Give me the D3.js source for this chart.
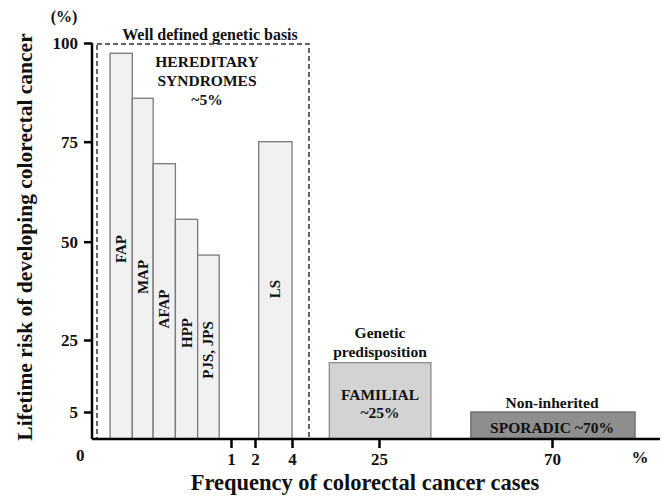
<!DOCTYPE html>
<html>
<head>
<meta charset="utf-8">
<script src="https://cdn.jsdelivr.net/npm/d3@7"></script>
<style>
  html, body { margin: 0; padding: 0; background: #fff; }
  svg { display: block; }
  text { font-family: "Liberation Serif", "Times New Roman", serif; fill: #111; }
</style>
</head>
<body>
<svg id="chart" width="662" height="497"></svg>
<script>
// ---- data ----
const hereditaryNames = ["FAP", "MAP", "AFAP", "HPP", "PJS, JPS", "LS"];
const hereditaryRisk  = [97.4, 86, 69.5, 55.6, 46.6, 75];
const hereditaryFrom  = [0.13, 0.29, 0.44, 0.60, 0.76, 2.2];
const hereditaryTo    = [0.29, 0.44, 0.60, 0.76, 0.915, 4];

const groupNames = ["FAMILIAL", "SPORADIC"];
const groupRisk  = [18.7, 5];
const groupFrom  = [10.8, 48.9];
const groupTo    = [38.5, 91.6];

const yTicks = [0, 5, 25, 50, 75, 100];
const xTicks = [1, 2, 4, 25, 70];

// ---- scales ----
const svg = d3.select("#chart");
const y = d3.scaleLinear()
  .domain([0, 5, 25, 50, 75, 100])
  .range([439, 412, 340, 241.7, 141.7, 43]);
const x = d3.scaleLinear()
  .domain([0, 1, 2, 4, 5, 25, 70])
  .range([92, 231, 255, 292, 309, 379, 552]);

// ---- hereditary dashed box ----
svg.append("rect")
  .attr("x", 97).attr("y", y(100) + 1)
  .attr("width", x(5) - 97).attr("height", y(0) - y(100) - 1)
  .attr("fill", "none").attr("stroke", "#333")
  .attr("stroke-width", 1.5).attr("stroke-dasharray", "5,3");

// ---- bars ----
const hData = hereditaryNames.map((n, i) => ({ n, v: hereditaryRisk[i], a: hereditaryFrom[i], b: hereditaryTo[i] }));
svg.selectAll("rect.h").data(hData).enter().append("rect")
  .attr("class", "h")
  .attr("x", d => x(d.a)).attr("width", d => x(d.b) - x(d.a))
  .attr("y", d => y(d.v)).attr("height", d => y(0) - y(d.v))
  .attr("fill", "#f1f1f1").attr("stroke", "#7a7a7a").attr("stroke-width", 1.3);

const labelY = [249, 277, 309, 333, 350, 289];
svg.selectAll("text.hl").data(hData).enter().append("text")
  .attr("class", "hl")
  .attr("transform", (d, i) => `translate(${(x(d.a) + x(d.b)) / 2 + 5},${labelY[i]}) rotate(-90)`)
  .attr("text-anchor", "middle")
  .attr("font-size", 15)
  .attr("font-weight", "bold")
  .text(d => d.n);

const gFill = ["#d3d3d3", "#8e8e8e"];
const gStroke = ["#8a8a8a", "#666"];
const gData = groupNames.map((n, i) => ({ n, v: groupRisk[i], a: groupFrom[i], b: groupTo[i], i }));
svg.selectAll("rect.g").data(gData).enter().append("rect")
  .attr("class", "g")
  .attr("x", d => x(d.a)).attr("width", d => x(d.b) - x(d.a))
  .attr("y", d => y(d.v)).attr("height", d => y(0) - y(d.v))
  .attr("fill", d => gFill[d.i]).attr("stroke", d => gStroke[d.i]).attr("stroke-width", 1.3);

// ---- axes ----
const yAxis = d3.axisLeft(y).tickValues(yTicks.slice(1)).tickSize(8).tickFormat(d3.format("d"));
const gy = svg.append("g").attr("transform", "translate(92,0)").call(yAxis);
gy.select(".domain").attr("d", `M0,${y(100)}V${y(0)}`).attr("stroke", "#000").attr("stroke-width", 2.5);
gy.selectAll(".tick line").attr("stroke", "#000").attr("stroke-width", 2.5);
gy.selectAll(".tick text").attr("x", -14).attr("font-size", 17).attr("font-weight", "bold")
  .attr("font-family", "Liberation Serif, serif").attr("fill", "#111");

const xAxis = d3.axisBottom(x).tickValues(xTicks).tickSize(9).tickFormat(d3.format("d"));
const gx = svg.append("g").attr("transform", `translate(0,${y(0)})`).call(xAxis);
gx.select(".domain").attr("d", `M${x(0)},0H660`).attr("stroke", "#000").attr("stroke-width", 2.5);
gx.selectAll(".tick line").attr("stroke", "#000").attr("stroke-width", 2.5);
gx.selectAll(".tick text").attr("y", 14).attr("font-size", 17).attr("font-weight", "bold")
  .attr("font-family", "Liberation Serif, serif").attr("fill", "#111");

const bold = (sel) => sel.attr("font-weight", "bold");
bold(svg.append("text").attr("x", 76).attr("y", 461).attr("font-size", 17).text("0"));
bold(svg.append("text").attr("x", 640).attr("y", 463).attr("text-anchor", "middle").attr("font-size", 17).text("%"));
bold(svg.append("text").attr("x", 64).attr("y", 22).attr("text-anchor", "middle").attr("font-size", 16).text("(%)"));

// axis titles
bold(svg.append("text").attr("transform", "translate(32,237) rotate(-90)")
  .attr("text-anchor", "middle").attr("font-size", 21.5)
  .text("Lifetime risk of developing colorectal cancer"));
bold(svg.append("text").attr("x", 365).attr("y", 490)
  .attr("text-anchor", "middle").attr("font-size", 22.5)
  .text("Frequency of colorectal cancer cases"));

// annotations
const ann = [
  ["Well defined genetic basis", 210, 40, 16],
  ["HEREDITARY", 207, 67, 15.5],
  ["SYNDROMES", 207, 86, 15.5],
  ["~5%", 207, 105, 15.5],
  ["Genetic", 380, 338, 15.5],
  ["predisposition", 380, 357, 15.5],
  ["FAMILIAL", 380, 400, 15.5],
  ["~25%", 380, 418, 15.5],
  ["Non-inherited", 552, 408, 15.5],
  ["SPORADIC ~70%", 552, 433, 15.5]
];
svg.selectAll("text.ann").data(ann).enter().append("text")
  .attr("class", "ann")
  .attr("x", d => d[1]).attr("y", d => d[2])
  .attr("text-anchor", "middle").attr("font-size", d => d[3])
  .attr("font-weight", "bold")
  .text(d => d[0]);
</script>
</body>
</html>
